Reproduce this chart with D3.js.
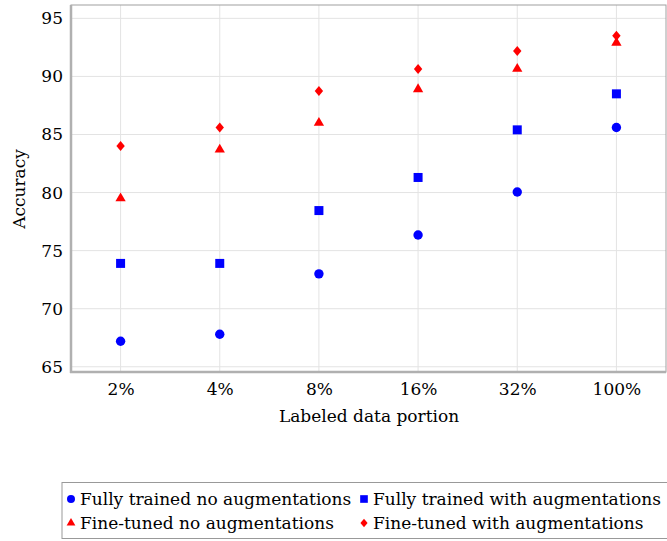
<!DOCTYPE html>
<html>
<head>
<meta charset="utf-8">
<script src="https://cdn.jsdelivr.net/npm/d3@7"></script>
<style>
  html, body { margin: 0; padding: 0; background: #fff; }
  svg { display: block; font-family: "DejaVu Serif", "Liberation Serif", serif; }
</style>
</head>
<body>
<svg id="chart" width="667" height="541"></svg>
<script>
// ─── Data ─────────────────────────────────────────────────────────────────────

const categories = ["2%", "4%", "8%", "16%", "32%", "100%"];
const yTicks = [65, 70, 75, 80, 85, 90, 95];

const fullyNoAug   = [67.2, 67.8, 73.0, 76.35, 80.05, 85.6];
const fullyAug     = [73.9, 73.9, 78.45, 81.3, 85.4, 88.5];
const fineNoAug    = [79.5, 83.7, 86.0, 88.9, 90.65, 92.9];
const fineAug      = [84.0, 85.6, 88.75, 90.65, 92.2, 93.5];

const series = [
  { name: "Fully trained no augmentations",  values: fullyNoAug, color: "#0000ff", symbol: "circle" },
  { name: "Fully trained with augmentations", values: fullyAug,   color: "#0000ff", symbol: "square" },
  { name: "Fine-tuned no augmentations",     values: fineNoAug,  color: "#ff0000", symbol: "triangle" },
  { name: "Fine-tuned with augmentations",   values: fineAug,    color: "#ff0000", symbol: "diamond" },
];

// ─── Layout ───────────────────────────────────────────────────────────────────

const FS = 17;
const plot = { left: 71, top: 5, right: 666, bottom: 372 };
const svg = d3.select("#chart");

const x = d3.scalePoint().domain(categories).range([plot.left, plot.right]).padding(0.5);
const y = d3.scaleLinear().domain([64.55, 96.15]).range([plot.bottom, plot.top]);

// grid
const grid = svg.append("g");
grid.selectAll("line.h").data(yTicks).join("line")
  .attr("class", "h")
  .attr("x1", plot.left).attr("x2", plot.right)
  .attr("y1", d => y(d)).attr("y2", d => y(d))
  .attr("stroke", "#e3e3e3").attr("stroke-width", 1);
grid.selectAll("line.v").data(categories).join("line")
  .attr("class", "v")
  .attr("x1", d => x(d)).attr("x2", d => x(d))
  .attr("y1", plot.top).attr("y2", plot.bottom)
  .attr("stroke", "#e3e3e3").attr("stroke-width", 1);

// frame: thin top/right, thick left/bottom
svg.append("rect")
  .attr("x", plot.left).attr("y", plot.top)
  .attr("width", plot.right - plot.left).attr("height", plot.bottom - plot.top)
  .attr("fill", "none").attr("stroke", "#a0a0a0").attr("stroke-width", 1);
svg.append("line")
  .attr("x1", plot.left).attr("x2", plot.left).attr("y1", plot.top).attr("y2", plot.bottom + 1)
  .attr("stroke", "#b0b0b0").attr("stroke-width", 2.5);
svg.append("line")
  .attr("x1", plot.left - 1).attr("x2", plot.right).attr("y1", plot.bottom).attr("y2", plot.bottom)
  .attr("stroke", "#b0b0b0").attr("stroke-width", 2.5);

// axes (labels only)
const yAxis = svg.append("g")
  .attr("transform", `translate(${plot.left},0)`)
  .call(d3.axisLeft(y).tickValues(yTicks).tickSize(0).tickPadding(8));
const xAxis = svg.append("g")
  .attr("transform", `translate(0,${plot.bottom})`)
  .call(d3.axisBottom(x).tickSize(0).tickPadding(11));
[yAxis, xAxis].forEach(a => {
  a.select(".domain").remove();
  a.selectAll("text").attr("font-family", "DejaVu Serif, serif").attr("font-size", FS).attr("fill", "#000");
});

svg.append("text")
  .attr("transform", `translate(25,189) rotate(-90)`)
  .attr("text-anchor", "middle").attr("font-size", FS).attr("fill", "#000")
  .text("Accuracy");
svg.append("text")
  .attr("x", 369).attr("y", 422)
  .attr("text-anchor", "middle").attr("font-size", FS).attr("fill", "#000")
  .text("Labeled data portion");

// ─── Markers ──────────────────────────────────────────────────────────────────

function markerPath(sym, k) {
  if (sym === "diamond") {
    const w = 4.2 * k, h = 5 * k;
    return `M0,${-h}L${w},0L0,${h}L${-w},0Z`;
  }
  if (sym === "circle") return d3.symbol(d3.symbolCircle, Math.PI * (4.7 * k) ** 2)();
  if (sym === "square") return d3.symbol(d3.symbolSquare, (9 * k) ** 2)();
  return d3.symbol(d3.symbolTriangle, 46 * k * k)();
}

series.forEach(s => {
  svg.append("g").selectAll("path").data(s.values).join("path")
    .attr("transform", (d, i) => `translate(${x(categories[i])},${y(d)})`)
    .attr("d", markerPath(s.symbol, 1))
    .attr("fill", s.color);
});

// ─── Legend ───────────────────────────────────────────────────────────────────

const legend = svg.append("g");
legend.append("rect")
  .attr("x", 62).attr("y", 482.5).attr("width", 620).attr("height", 56)
  .attr("fill", "#fff").attr("stroke", "#999").attr("stroke-width", 1);

const cols = [71, 364];
const rowsY = [499, 523];
series.forEach((s, i) => {
  const cx = cols[i % 2], cy = rowsY[Math.floor(i / 2)];
  legend.append("path")
    .attr("transform", `translate(${cx},${cy})`)
    .attr("d", markerPath(s.symbol, 0.85))
    .attr("fill", s.color);
  legend.append("text")
    .attr("x", cx + 9).attr("y", cy + 5.5)
    .attr("font-size", FS).attr("fill", "#000")
    .text(s.name);
});
</script>
</body>
</html>
